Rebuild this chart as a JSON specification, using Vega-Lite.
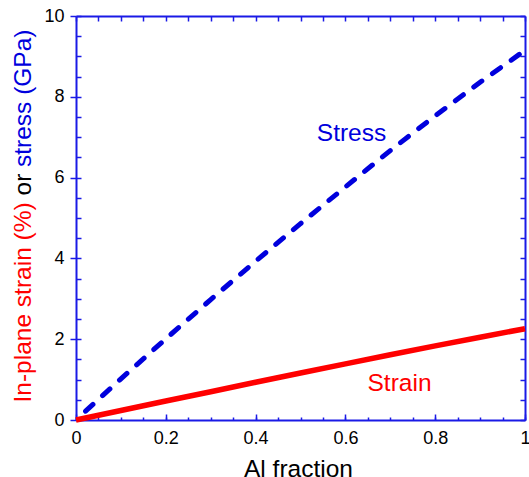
{
  "$schema": "https://vega.github.io/schema/vega-lite/v6.json",
  "width": 449,
  "height": 404,
  "autosize": {"type": "none"},
  "padding": {"left": 76, "top": 16, "right": 4, "bottom": 57},
  "background": "white",
  "config": {
    "view": {"stroke": null},
    "font": "Liberation Sans",
    "axis": {
      "grid": false,
      "domainColor": "#1a1ae6",
      "domainWidth": 2,
      "tickColor": "#1a1ae6",
      "tickWidth": 1.5,
      "labelFont": "Liberation Sans",
      "labelFontSize": 18,
      "labelColor": "black",
      "labelFlush": false,
      "labelOverlap": false,
      "titleFont": "Liberation Sans",
      "titleFontSize": 24.5,
      "titleFontWeight": "normal"
    }
  },
  "datasets": {
    "curves": [
      {"x": 0.0, "stress": 0.0, "strain": 0.0},
      {"x": 0.1, "stress": 1.02, "strain": 0.235},
      {"x": 0.2, "stress": 2.01, "strain": 0.47},
      {"x": 0.3, "stress": 2.98, "strain": 0.7},
      {"x": 0.4, "stress": 3.93, "strain": 0.935},
      {"x": 0.5, "stress": 4.86, "strain": 1.165},
      {"x": 0.6, "stress": 5.77, "strain": 1.39},
      {"x": 0.7, "stress": 6.67, "strain": 1.615},
      {"x": 0.8, "stress": 7.53, "strain": 1.835},
      {"x": 0.9, "stress": 8.36, "strain": 2.05},
      {"x": 1.0, "stress": 9.15, "strain": 2.26}
    ],
    "labels": [
      {"x": 0.6136, "y": 6.91, "label": "Stress", "series": "stress"},
      {"x": 0.7205, "y": 0.725, "label": "Strain", "series": "strain"}
    ]
  },
  "layer": [
    {
      "data": {"name": "curves"},
      "mark": {"type": "line", "color": "#ff0000", "strokeWidth": 5.5, "strokeCap": "butt"},
      "encoding": {
        "x": {"field": "x", "type": "quantitative", "scale": {"domain": [0, 1], "nice": false, "zero": false},
          "axis": {"orient": "bottom", "values": [0, 0.2, 0.4, 0.6, 0.8, 1], "format": "~g", "tickSize": -6, "labelPadding": 15.5,
            "title": "Al fraction", "titleColor": "black", "titleX": 222, "titleY": 56, "titleAlign": "center", "titleBaseline": "alphabetic"}},
        "y": {"field": "strain", "type": "quantitative", "scale": {"domain": [0, 10], "nice": false, "zero": false},
          "axis": {"orient": "left", "values": [0, 2, 4, 6, 8, 10], "format": "d", "tickSize": 6, "labelPadding": 6,
            "title": "In-plane strain (%)", "titleColor": "#ff0000", "titleAngle": 270, "titleAlign": "left", "titleBaseline": "alphabetic",
            "titleX": -45.5, "titleY": 386}}
      }
    },
    {
      "data": {"name": "curves"},
      "mark": {"type": "line", "color": "#0000dd", "strokeWidth": 5, "strokeCap": "round", "strokeDash": [10, 13], "strokeDashOffset": 10},
      "encoding": {
        "x": {"field": "x", "type": "quantitative", "scale": {"domain": [0, 1], "nice": false, "zero": false}, "axis": null},
        "y": {"field": "stress", "type": "quantitative", "scale": {"domain": [0, 10], "nice": false, "zero": false}, "axis": null}
      }
    },
    {
      "data": {"name": "labels"},
      "mark": {"type": "text", "fontSize": 24.5, "align": "center", "baseline": "alphabetic", "font": "Liberation Sans"},
      "encoding": {
        "x": {"field": "x", "type": "quantitative", "scale": {"domain": [0, 1], "nice": false, "zero": false}, "axis": null},
        "y": {"field": "y", "type": "quantitative", "scale": {"domain": [0, 10], "nice": false, "zero": false}, "axis": null},
        "text": {"field": "label"},
        "color": {"field": "series", "type": "nominal", "scale": {"domain": ["stress", "strain"], "range": ["#0000dd", "#ff0000"]}, "legend": null}
      }
    },
    {
      "data": {"name": "curves"},
      "mark": {"type": "point", "opacity": 0},
      "encoding": {
        "x": {"field": "x", "type": "quantitative", "scale": {"domain": [0, 1], "nice": false, "zero": false},
          "axis": {"orient": "top", "values": [0, 0.05, 0.1, 0.15, 0.2, 0.25, 0.3, 0.35, 0.4, 0.45, 0.5, 0.55, 0.6, 0.65, 0.7, 0.75, 0.8, 0.85, 0.9, 0.95, 1], "labels": false, "tickSize": -5, "title": null}},
        "y": {"field": "stress", "type": "quantitative", "scale": {"domain": [0, 10], "nice": false, "zero": false},
          "axis": {"orient": "right", "values": [0, 0.5, 1, 1.5, 2, 2.5, 3, 3.5, 4, 4.5, 5, 5.5, 6, 6.5, 7, 7.5, 8, 8.5, 9, 9.5, 10], "labels": false, "tickSize": -5, "title": null}}
      }
    },
    {
      "data": {"name": "curves"},
      "mark": {"type": "point", "opacity": 0},
      "encoding": {
        "x": {"field": "x", "type": "quantitative", "scale": {"domain": [0, 1], "nice": false, "zero": false},
          "axis": {"orient": "bottom", "values": [0, 0.05, 0.1, 0.15, 0.2, 0.25, 0.3, 0.35, 0.4, 0.45, 0.5, 0.55, 0.6, 0.65, 0.7, 0.75, 0.8, 0.85, 0.9, 0.95, 1], "labels": false, "domain": false, "tickSize": -3, "title": null}},
        "y": {"field": "stress", "type": "quantitative", "scale": {"domain": [0, 10], "nice": false, "zero": false},
          "axis": {"orient": "left", "values": [0, 0.5, 1, 1.5, 2, 2.5, 3, 3.5, 4, 4.5, 5, 5.5, 6, 6.5, 7, 7.5, 8, 8.5, 9, 9.5, 10], "labels": false, "domain": false, "tickSize": -5,
            "title": "or", "titleColor": "black", "titleAngle": 270, "titleAlign": "left", "titleBaseline": "alphabetic", "titleX": -45.5, "titleY": 179}}
      }
    },
    {
      "data": {"name": "curves"},
      "mark": {"type": "point", "opacity": 0},
      "encoding": {
        "x": {"field": "x", "type": "quantitative", "scale": {"domain": [0, 1], "nice": false, "zero": false}, "axis": null},
        "y": {"field": "stress", "type": "quantitative", "scale": {"domain": [0, 10], "nice": false, "zero": false},
          "axis": {"orient": "left", "labels": false, "ticks": false, "domain": false,
            "title": "stress (GPa)", "titleColor": "#0000dd", "titleAngle": 270, "titleAlign": "left", "titleBaseline": "alphabetic", "titleX": -45.5, "titleY": 150.5}}
      }
    }
  ],
  "resolve": {"scale": {"x": "independent", "y": "independent"}}
}
